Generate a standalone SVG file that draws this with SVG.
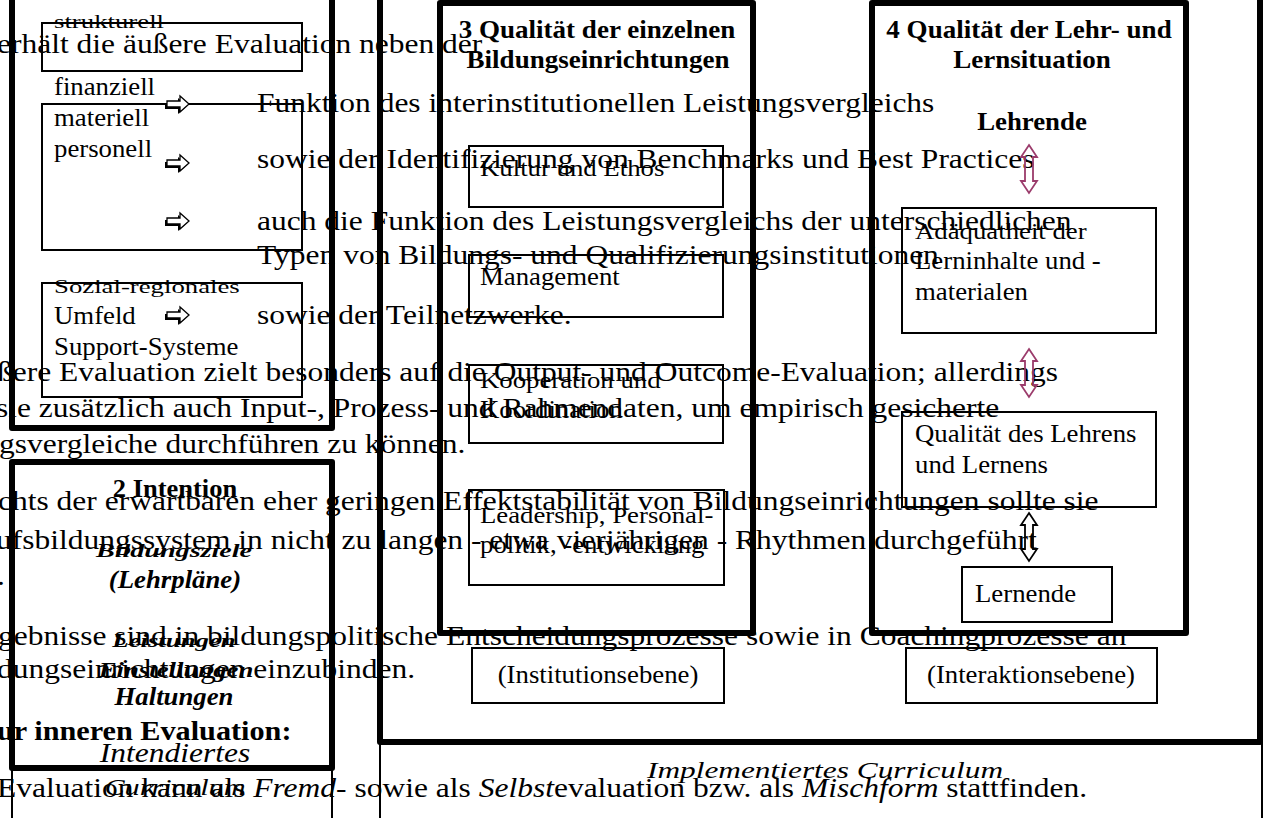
<svg xmlns="http://www.w3.org/2000/svg" xmlns:xlink="http://www.w3.org/1999/xlink" width="1267" height="818" viewBox="0 0 1267 818">
<style>
text{font-family:"Liberation Serif","Times New Roman",serif;fill:#000}
.p{font-size:28px}
.t{font-size:26px}
.b{font-weight:bold}
.i{font-style:italic}
.m{text-anchor:middle}
.thick{fill:none;stroke:#000;stroke-width:6;stroke-linejoin:round}
.thin{fill:none;stroke:#000;stroke-width:2}
.dbl{fill:none;stroke-width:1.8;stroke-linejoin:miter}
</style>
<defs>
<g id="rarrow">
<path d="M1,5 L14,5 L14,0 L23,8 L14,16 L14,11 L1,11 Z" transform="translate(-2,2)" fill="#000"/>
<path d="M1,5 L14,5 L14,0 L23,8 L14,16 L14,11 L1,11 Z" fill="#fff" stroke="#000" stroke-width="1.3"/>
</g>
<path id="darrow" d="M0,0 L8,12 L4,12 L4,36 L8,36 L0,48 L-8,36 L-4,36 L-4,12 L-8,12 Z"/>
</defs>
<rect width="1267" height="818" fill="#fff"/>

<!-- background document text -->
<g id="page-text">
<text class="p" transform="matrix(1.125 0 0 1 -3 53)">erhält die äußere Evaluation neben der</text>
<text class="p" transform="matrix(1.125 0 0 1 257 112)">Funktion des interinstitutionellen Leistungsvergleichs</text>
<text class="p" transform="matrix(1.125 0 0 1 257 168)">sowie der Identifizierung von Benchmarks und Best Practices</text>
<text class="p" transform="matrix(1.125 0 0 1 257 230)">auch die Funktion des Leistungsvergleichs der unterschiedlichen</text>
<text class="p" transform="matrix(1.125 0 0 1 257 264)">Typen von Bildungs- und Qualifizierungsinstitutionen</text>
<text class="p" transform="matrix(1.125 0 0 1 257 324)">sowie der Teilnetzwerke.</text>
<text class="p" transform="matrix(1.125 0 0 1 -3 381)">ßere Evaluation zielt besonders auf die Output- und Outcome-Evaluation; allerdings</text>
<text class="p" transform="matrix(1.125 0 0 1 -4 417)">sie zusätzlich auch Input-, Prozess- und Rahmendaten, um empirisch gesicherte</text>
<text class="p" transform="matrix(1.125 0 0 1 -1 453)">gsvergleiche durchführen zu können.</text>
<text class="p" transform="matrix(1.125 0 0 1 -2 510)">chts der erwartbaren eher geringen Effektstabilität von Bildungseinrichtungen sollte sie</text>
<text class="p" transform="matrix(1.125 0 0 1 -4 549)">ufsbildungssystem in nicht zu langen - etwa vierjährigen - Rhythmen durchgeführt</text>
<text class="p" transform="matrix(1.125 0 0 1 -3 585)">.</text>
<text class="p" transform="matrix(1.125 0 0 1 -2 645)">gebnisse sind in bildungspolitische Entscheidungsprozesse sowie in Coachingprozesse an</text>
<text class="p" transform="matrix(1.125 0 0 1 -3 678)">dungseinrichtungen einzubinden.</text>
<text class="p b" transform="matrix(1.08 0 0 1 -3 740)">ur inneren Evaluation:</text>
<text class="p" transform="matrix(1.125 0 0 1 -3 797)">Evaluation kann als <tspan class="i">Fremd</tspan>- sowie als <tspan class="i">Selbst</tspan>evaluation bzw. als <tspan class="i">Mischform</tspan> stattfinden.</text>
</g>

<!-- 1: conditions -->
<g id="node-rahmen">
<rect class="thick" x="12" y="-20" width="320" height="448"/>
<g id="node-strukturell">
<rect class="thin" x="42" y="23" width="260" height="48"/>
<text class="t" transform="matrix(1.03 0 0 0.72 54 28)">strukturell</text>
</g>
<g id="node-ressourcen">
<rect class="thin" x="42" y="104" width="260" height="146"/>
<text class="t" transform="matrix(1.03 0 0 1 54 95)">finanziell</text>
<text class="t" transform="matrix(1.03 0 0 1 54 126)">materiell</text>
<text class="t" transform="matrix(1.03 0 0 1 54 157)">personell</text>
</g>
<g id="node-umfeld">
<rect class="thin" x="42" y="283" width="260" height="114"/>
<text class="t" transform="matrix(1.03 0 0 0.7 54 293)">Sozial-regionales</text>
<text class="t" transform="matrix(1.03 0 0 1 54 324)">Umfeld</text>
<text class="t" transform="matrix(1.03 0 0 1 54 355)">Support-Systeme</text>
</g>
</g>

<!-- 2: Intention -->
<g id="node-intention">
<rect class="thick" x="12" y="462" width="320" height="306"/>
<text class="t b m" transform="matrix(1.02 0 0 1 175 497)">2 Intention</text>
<text class="t b i m" transform="matrix(1.08 0 0 0.72 174 557)">Bildungsziele</text>
<text class="t b i m" transform="matrix(1.03 0 0 1 175 588)">(Lehrpläne)</text>
<text class="t b i m" transform="matrix(1.03 0 0 0.75 174 647)">Leistungen</text>
<text class="t b i m" transform="matrix(1.03 0 0 0.8 176 677)">Einstellungen</text>
<text class="t b i m" transform="matrix(1.03 0 0 1 174 705)">Haltungen</text>
</g>
<g id="node-intendiert">
<rect class="thin" x="12" y="768" width="320" height="80"/>
<text class="p i m" transform="matrix(1.125 0 0 1 175 762)">Intendiertes</text>
<text class="p i m" transform="matrix(1.08 0 0 0.8 175 795)">Curriculum</text>
</g>

<!-- implemented curriculum frame -->
<g id="node-implementiert">
<rect class="thick" x="380" y="-20" width="880" height="762"/>
<rect class="thin" x="380" y="742" width="882" height="100"/>
<text class="p i m" transform="matrix(1.12 0 0 0.85 825 778)">Implementiertes Curriculum</text>
</g>

<!-- 3: Institution -->
<g id="node-institution">
<rect class="thick" x="440" y="3" width="313" height="630"/>
<text class="t b m" transform="matrix(1.04 0 0 1 597 38)">3 Qualität der einzelnen</text>
<text class="t b m" transform="matrix(1.04 0 0 1 598 68)">Bildungseinrichtungen</text>
<g id="node-kultur">
<rect class="thin" x="469" y="146" width="254" height="61"/>
<text class="t" transform="matrix(1.03 0 0 0.9 480 176)">Kultur und Ethos</text>
</g>
<g id="node-management">
<rect class="thin" x="469" y="255" width="254" height="62"/>
<text class="t" transform="matrix(1.03 0 0 1 480 285)">Management</text>
</g>
<g id="node-kooperation">
<rect class="thin" x="469" y="365" width="254" height="78"/>
<text class="t" transform="matrix(1.03 0 0 0.9 480 388)">Kooperation und</text>
<text class="t" transform="matrix(1.03 0 0 1 480 418)">Koordination</text>
</g>
<g id="node-leadership">
<rect class="thin" x="469" y="490" width="255" height="95"/>
<text class="t" transform="matrix(1.03 0 0 0.9 480 523)">Leadership, Personal-</text>
<text class="t" transform="matrix(1.03 0 0 1 480 553)">politik, -entwicklung</text>
</g>
<g id="node-institutionsebene">
<rect class="thin" x="472" y="648" width="252" height="55"/>
<text class="t m" transform="matrix(1.03 0 0 1 598 683)">(Institutionsebene)</text>
</g>
</g>

<!-- 4: Lehr-/Lernsituation -->
<g id="node-lernsituation">
<rect class="thick" x="872" y="3" width="314" height="630"/>
<text class="t b m" transform="matrix(1.04 0 0 1 1029 38)">4 Qualität der Lehr- und</text>
<text class="t b m" transform="matrix(1.04 0 0 1 1032 68)">Lernsituation</text>
<g id="node-lehrende">
<text class="t b m" transform="matrix(1.03 0 0 1 1032 130)">Lehrende</text>
</g>
<g id="node-adaequatheit">
<rect class="thin" x="902" y="208" width="254" height="125"/>
<text class="t" transform="matrix(1.03 0 0 0.9 915 239)">Adäquatheit der</text>
<text class="t" transform="matrix(1.03 0 0 1 915 269)">Lerninhalte und -</text>
<text class="t" transform="matrix(1.03 0 0 1 915 300)">materialen</text>
</g>
<g id="node-qualitaet">
<rect class="thin" x="902" y="412" width="254" height="95"/>
<text class="t" transform="matrix(1.03 0 0 1 915 442)">Qualität des Lehrens</text>
<text class="t" transform="matrix(1.03 0 0 1 915 473)">und Lernens</text>
</g>
<g id="node-lernende">
<rect class="thin" x="962" y="567" width="150" height="55"/>
<text class="t" transform="matrix(1.03 0 0 1 975 602)">Lernende</text>
</g>
<g id="node-interaktionsebene">
<rect class="thin" x="906" y="648" width="251" height="55"/>
<text class="t m" transform="matrix(1.03 0 0 1 1031 683)">(Interaktionsebene)</text>
</g>
</g>

<!-- connectors -->
<g id="connectors">
<use xlink:href="#rarrow" href="#rarrow" transform="translate(166,96)"/>
<use xlink:href="#rarrow" href="#rarrow" transform="translate(166,155)"/>
<use xlink:href="#rarrow" href="#rarrow" transform="translate(166,213)"/>
<use xlink:href="#rarrow" href="#rarrow" transform="translate(166,307)"/>
<use xlink:href="#darrow" href="#darrow" class="dbl" stroke="#9b3b6b" transform="translate(1029,145)"/>
<use xlink:href="#darrow" href="#darrow" class="dbl" stroke="#9b3b6b" transform="translate(1029,349)"/>
<use xlink:href="#darrow" href="#darrow" class="dbl" stroke="#000" transform="translate(1029,513)"/>
</g>
</svg>
